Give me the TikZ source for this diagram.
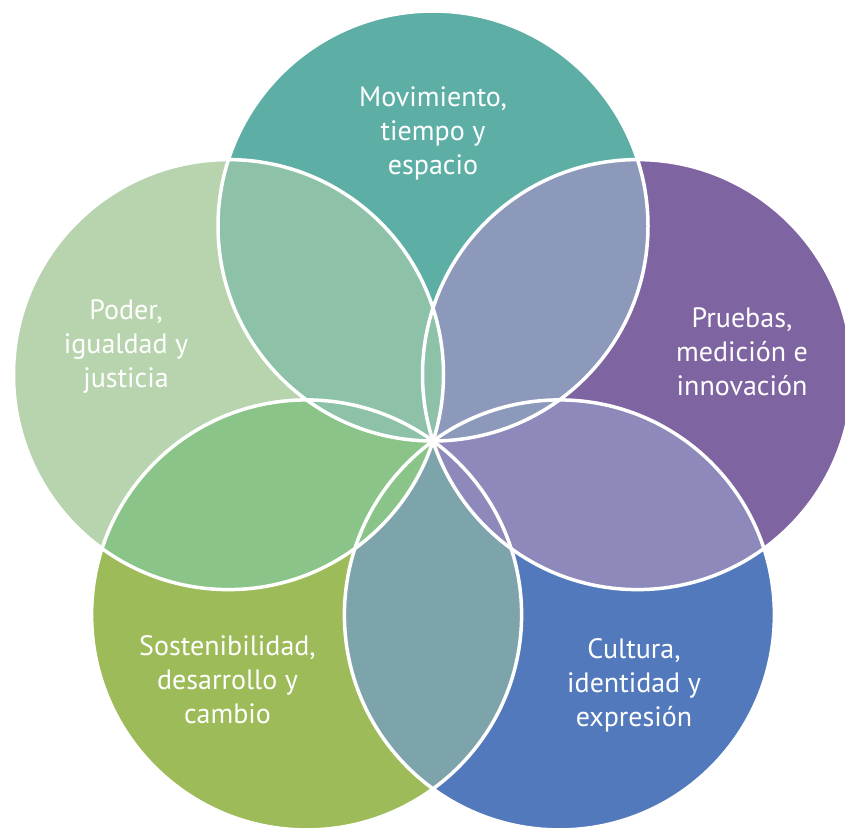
\documentclass[tikz,border=0pt]{standalone}
\usepackage{fontspec}
\setmainfont{PT Sans}
\begin{document}
\begin{tikzpicture}[x=1pt,y=-1pt]
\definecolor{colT}{HTML}{5DAFA6}
\definecolor{colL}{HTML}{B8D4AE}
\definecolor{colR}{HTML}{7F64A2}
\definecolor{colBR}{HTML}{5279BC}
\definecolor{colBL}{HTML}{9DBB58}
\definecolor{colTL}{HTML}{8DC2A9}
\definecolor{colTR}{HTML}{8C99BA}
\definecolor{colRBR}{HTML}{8D89BA}
\definecolor{colBB}{HTML}{7DA4AB}
\definecolor{colLBL}{HTML}{8AC488}
\tikzset{
  lbl/.style={text=white, font=\fontsize{28}{34}\selectfont, anchor=base, inner sep=0pt},
  ring/.style={draw=white, line width=3.5pt},
}
\def\rr{215}
\useasboundingbox (0,0) rectangle (845,830);
\clip (0,0) rectangle (845,830);
\coordinate (pT) at (433,226);
\coordinate (pR) at (637.5,374.6);
\coordinate (pL) at (228.5,374.6);
\coordinate (pBR) at (559.4,614.9);
\coordinate (pBL) at (306.6,614.9);
% base circles
\fill[colT] (pT) circle[radius=\rr];
\fill[colR] (pR) circle[radius=\rr];
\fill[colBR] (pBR) circle[radius=\rr];
\fill[colBL] (pBL) circle[radius=\rr];
\fill[colL] (pL) circle[radius=\rr];
% lenses
\begin{scope}\clip (pBL) circle[radius=\rr]; \fill[colBB] (pBR) circle[radius=\rr];\end{scope}
\begin{scope}\clip (pR) circle[radius=\rr]; \fill[colRBR] (pBR) circle[radius=\rr];\end{scope}
\begin{scope}\clip (pT) circle[radius=\rr]; \fill[colTR] (pR) circle[radius=\rr];\end{scope}
\begin{scope}\clip (pL) circle[radius=\rr]; \fill[colLBL] (pBL) circle[radius=\rr];\end{scope}
\begin{scope}\clip (pT) circle[radius=\rr]; \fill[colTL] (pL) circle[radius=\rr];\end{scope}
% outlines
\foreach \p in {pT,pR,pBR,pBL,pL} \draw[ring] (\p) circle[radius=\rr];
% labels
\node[lbl] (t1) at (433,106) {Movimiento,};
\node[lbl] (t2) at (433,140) {tiempo y};
\node[lbl] (t3) at (433,174) {espacio};
\node[lbl] (l1) at (126,319) {Poder,};
\node[lbl] (l2) at (126,353) {igualdad y};
\node[lbl] (l3) at (126,387) {justicia};
\node[lbl] (r1) at (742,327) {Pruebas,};
\node[lbl] (r2) at (742,361) {medición e};
\node[lbl] (r3) at (742,395) {innovación};
\node[lbl] (bl1) at (227.5,655) {Sostenibilidad,};
\node[lbl] (bl2) at (227.5,689) {desarrollo y};
\node[lbl] (bl3) at (227.5,723) {cambio};
\node[lbl] (br1) at (634,658) {Cultura,};
\node[lbl] (br2) at (634,692) {identidad y};
\node[lbl] (br3) at (634,726) {expresión};
\end{tikzpicture}
\end{document}
